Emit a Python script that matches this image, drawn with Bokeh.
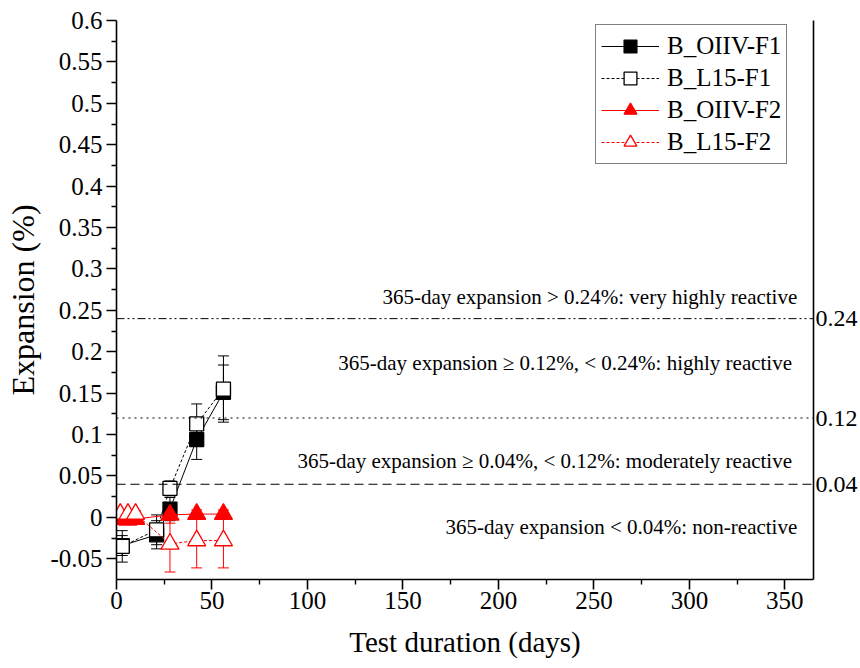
from bokeh.plotting import figure
from bokeh.models import (ColumnDataSource, Whisker, TeeHead, Legend, LegendItem,
                          FixedTicker, LinearAxis, Span, Label)
from bokeh.embed import file_html
from bokeh.resources import INLINE

FONT = "Liberation Serif"

# Expansion readings (%) by test age (days)
days_f1 = [3, 21, 28, 42, 56]
oiiv_f1 = [-0.034, -0.021, 0.010, 0.094, 0.151]
oiiv_f1_err = [0.012, 0.017, 0.014, 0.024, 0.033]
l15_f1 = [-0.035, -0.015, 0.035, 0.113, 0.155]
l15_f1_err = [0.019, 0.018, 0.009, 0.024, 0.040]

days_f2 = [2, 6, 10, 28, 42, 56]
oiiv_f2 = [-0.002, -0.003, -0.002, 0.003, 0.004, 0.004]
oiiv_f2_err = [0.004, 0.004, 0.004, 0.010, 0.005, 0.005]
l15_f2 = [0.004, 0.004, 0.004, -0.032, -0.028, -0.028]
l15_f2_err = [0.004, 0.004, 0.004, 0.034, 0.033, 0.033]

series_names = ["B_OIIV-F1", "B_L15-F1", "B_OIIV-F2", "B_L15-F2"]

# Reactivity classification limits
limits = [0.24, 0.12, 0.04]
limit_labels = ["0.24", "0.12", "0.04"]
class_texts = [
    "365-day expansion > 0.24%: very highly reactive",
    "365-day expansion \u2265 0.12%, < 0.24%:  highly reactive",
    "365-day expansion \u2265 0.04%, < 0.12%:  moderately reactive",
    "365-day expansion < 0.04%: non-reactive",
]

x_ticks = [0, 50, 100, 150, 200, 250, 300, 350]
y_ticks = [-0.05, 0, 0.05, 0.1, 0.15, 0.2, 0.25, 0.3, 0.35, 0.4, 0.45, 0.5, 0.55, 0.6]
y_tick_labels = ["-0.05", "0", "0.05", "0.1", "0.15", "0.2", "0.25", "0.3", "0.35",
                 "0.4", "0.45", "0.5", "0.55", "0.6"]

p = figure(width=860, height=668, x_range=(0, 365), y_range=(-0.075, 0.6),
           output_backend="svg", toolbar_location=None,
           min_border_left=116, min_border_right=45, min_border_top=20,
           min_border_bottom=89)
p.outline_line_color = None
p.grid.visible = False
p.background_fill_color = "white"
p.border_fill_color = "white"

# Axes
for ax in (p.xaxis[0], p.yaxis[0]):
    ax.axis_line_width = 1.6
    ax.major_tick_line_width = 1.6
    ax.minor_tick_line_width = 1.4
    ax.major_tick_in = 0
    ax.major_tick_out = 10
    ax.minor_tick_in = 0
    ax.minor_tick_out = 5
    ax.major_label_text_font = FONT
    ax.major_label_text_font_size = "25px"
    ax.major_label_text_color = "black"
    ax.axis_label_text_font = FONT
    ax.axis_label_text_font_style = "normal"
    ax.axis_label_text_color = "black"

p.xaxis[0].ticker = FixedTicker(ticks=x_ticks,
                                minor_ticks=[t + 25 for t in x_ticks])
p.xaxis[0].axis_label = "Test duration (days)"
p.xaxis[0].axis_label_text_font_size = "29px"
p.xaxis[0].major_label_standoff = 2
p.xaxis[0].axis_label_standoff = 14

p.yaxis[0].ticker = FixedTicker(ticks=y_ticks,
                                minor_ticks=[t - 0.025 for t in y_ticks])
p.yaxis[0].major_label_overrides = {t: s for t, s in zip(y_ticks, y_tick_labels)}
p.yaxis[0].axis_label = "Expansion (%)"
p.yaxis[0].axis_label_text_font_size = "32px"
p.yaxis[0].major_label_standoff = 4
p.yaxis[0].axis_label_standoff = 6

right = LinearAxis(ticker=FixedTicker(ticks=limits, minor_ticks=[]),
                   major_label_overrides={t: s for t, s in zip(limits, limit_labels)})
right.axis_line_width = 1.6
right.major_tick_in = 0
right.major_tick_out = 0
right.minor_tick_in = 0
right.minor_tick_out = 0
right.major_label_standoff = 2
right.major_label_text_font = FONT
right.major_label_text_font_size = "24px"
right.major_label_text_color = "black"
p.add_layout(right, "right")

# Classification limits and their descriptions
dashes = ["8 3 2 3 2 3", "2 4", "9 5"]
for lim, dash in zip(limits, dashes):
    p.add_layout(Span(location=lim, dimension="width", line_color="black",
                      line_width=1, line_dash=dash))

text_y = [0.2666, 0.1868, 0.0685, -0.0113]
for txt, ty in zip(class_texts, text_y):
    p.add_layout(Label(x=356.5, y=ty, text=txt, text_align="right",
                       text_baseline="middle", text_font=FONT,
                       text_font_size="21px", text_color="black"))


def add_series(days, vals, errs, color, dash, marker, fill, size):
    src = ColumnDataSource(dict(x=days, y=vals,
                                up=[v + e for v, e in zip(vals, errs)],
                                lo=[v - e for v, e in zip(vals, errs)]))
    w = Whisker(source=src, base="x", upper="up", lower="lo", dimension="height",
                line_color=color, line_width=1,
                upper_head=TeeHead(size=11, line_color=color, line_width=1),
                lower_head=TeeHead(size=11, line_color=color, line_width=1))
    p.add_layout(w)
    ln = p.line("x", "y", source=src, line_color=color, line_width=1, line_dash=dash)
    mk = p.scatter("x", "y", source=src, marker=marker, size=size,
                   fill_color=fill, line_color=color, line_width=1.3)
    return [ln, mk]


r1 = add_series(days_f1, oiiv_f1, oiiv_f1_err, "black", "solid", "square", "black", 14)
r2 = add_series(days_f1, l15_f1, l15_f1_err, "black", "3 2", "square", "white", 14)
r3 = add_series(days_f2, oiiv_f2, oiiv_f2_err, "red", "solid", "triangle", "red", 18)
r4 = add_series(days_f2, l15_f2, l15_f2_err, "red", "3 2", "triangle", "white", 18)

legend = Legend(items=[LegendItem(label=n, renderers=r)
                       for n, r in zip(series_names, [r1, r2, r3, r4])],
                location=(479, 415), orientation="vertical",
                glyph_width=58, glyph_height=32, label_height=24, spacing=0,
                padding=5, margin=0, label_standoff=8,
                label_text_font=FONT, label_text_font_size="25px",
                label_text_color="black",
                border_line_color="black", border_line_width=1,
                background_fill_color="white", background_fill_alpha=1)
p.add_layout(legend)

open("out.html", "w").write(file_html(p, INLINE))
